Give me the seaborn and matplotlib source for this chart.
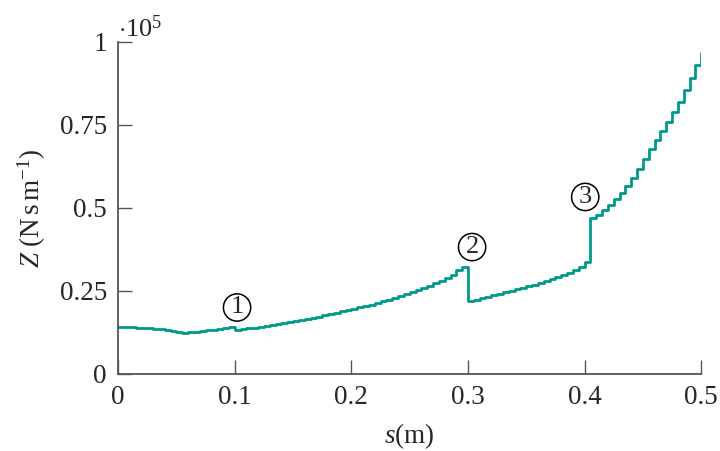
import matplotlib
matplotlib.use("Agg")
import pandas as pd
import seaborn as sns
import matplotlib.pyplot as plt

# position along the tube (m), one entry per step
s_pos = [0.000, 0.005, 0.010, 0.015, 0.020, 0.025, 0.030, 0.035, 0.040, 0.045,
         0.050, 0.055, 0.060, 0.065, 0.070, 0.075, 0.080, 0.085, 0.090, 0.095,
         0.100, 0.105, 0.110, 0.115, 0.120, 0.125, 0.130, 0.135, 0.140, 0.145,
         0.150, 0.155, 0.160, 0.165, 0.170, 0.175, 0.180, 0.185, 0.190, 0.195,
         0.200, 0.205, 0.210, 0.215, 0.220, 0.225, 0.230, 0.235, 0.240, 0.245,
         0.250, 0.255, 0.260, 0.265, 0.270, 0.275, 0.280, 0.285, 0.290, 0.295,
         0.300, 0.305, 0.310, 0.315, 0.320, 0.325, 0.330, 0.335, 0.340, 0.345,
         0.350, 0.355, 0.360, 0.365, 0.370, 0.375, 0.380, 0.385, 0.390, 0.395,
         0.400, 0.405, 0.410, 0.415, 0.420, 0.425, 0.430, 0.435, 0.440, 0.445,
         0.450, 0.455, 0.460, 0.465, 0.470, 0.475, 0.480, 0.485, 0.490, 0.495,
         0.500]

# impedance (x 1e5 N s m^-1)
z_val = [0.141, 0.141, 0.140, 0.139, 0.138, 0.137, 0.135, 0.134, 0.131, 0.129,
         0.126, 0.124, 0.126, 0.127, 0.129, 0.131, 0.133, 0.135, 0.138, 0.142,
         0.132, 0.134, 0.137, 0.139, 0.142, 0.144, 0.147, 0.150, 0.153, 0.156,
         0.159, 0.162, 0.165, 0.169, 0.172, 0.176, 0.180, 0.184, 0.188, 0.192,
         0.196, 0.200, 0.204, 0.209, 0.214, 0.219, 0.224, 0.229, 0.235, 0.241,
         0.247, 0.253, 0.260, 0.266, 0.273, 0.280, 0.289, 0.298, 0.312, 0.323,
         0.220, 0.224, 0.228, 0.233, 0.237, 0.241, 0.246, 0.250, 0.255, 0.259,
         0.264, 0.269, 0.274, 0.279, 0.285, 0.291, 0.297, 0.304, 0.313, 0.322,
         0.336, 0.469, 0.479, 0.494, 0.510, 0.527, 0.546, 0.566, 0.590, 0.618,
         0.647, 0.677, 0.705, 0.731, 0.759, 0.788, 0.820, 0.854, 0.890, 0.930,
         0.968]

x_ticks = [0, 0.1, 0.2, 0.3, 0.4, 0.5]
x_labels = ["0", "0.1", "0.2", "0.3", "0.4", "0.5"]
y_ticks = [0, 0.25, 0.5, 0.75, 1]
y_labels = ["0", "0.25", "0.5", "0.75", "1"]

# circled markers: label, s, Z
marks = [("1", 0.102, 0.200), ("2", 0.3035, 0.382), ("3", 0.4005, 0.533)]

sns.set_style("ticks")
plt.rcParams["font.family"] = ["Liberation Serif", "DejaVu Serif"]
plt.rcParams["mathtext.fontset"] = "custom"
plt.rcParams["mathtext.rm"] = "Liberation Serif"
plt.rcParams["mathtext.it"] = "Liberation Serif:italic"
plt.rcParams["xtick.direction"] = "in"
plt.rcParams["ytick.direction"] = "in"

df = pd.DataFrame({"s": s_pos, "Z": z_val})

fig = plt.figure(figsize=(7.2, 4.51), dpi=100)
ax = fig.add_axes([0.164, 0.171, 0.810, 0.736])
sns.lineplot(data=df, x="s", y="Z", drawstyle="steps-post", color="#00998a",
             linewidth=2.0, ax=ax)

ax.set_xlim(0, 0.5)
ax.set_ylim(0, 1)
ax.set_xticks(x_ticks)
ax.set_xticklabels(x_labels)
ax.set_yticks(y_ticks)
ax.set_yticklabels(y_labels)
ax.tick_params(length=10, width=1, color="#555555", labelsize=19.5, pad=8)
sns.despine(ax=ax)
for side in ["left", "bottom"]:
    ax.spines[side].set_color("#555555")
    ax.spines[side].set_linewidth(1.3)

ax.set_xlabel("$s$(m)", fontsize=19.5, labelpad=8)
ax.set_ylabel(r"$Z$ (N$\,$s$\,$m$^{-1}$)", fontsize=19.5, labelpad=8)
ax.text(0.0, 1.0, r"$\cdot10^5$", transform=ax.transAxes, fontsize=19,
        ha="left", va="bottom")

for lab, xs, ys in marks:
    ax.text(xs, ys, lab, fontsize=19, ha="center", va="center",
            bbox=dict(boxstyle="circle,pad=0.1", fc="white", ec="black", lw=1.1))

fig.savefig("out.png", dpi=100)
